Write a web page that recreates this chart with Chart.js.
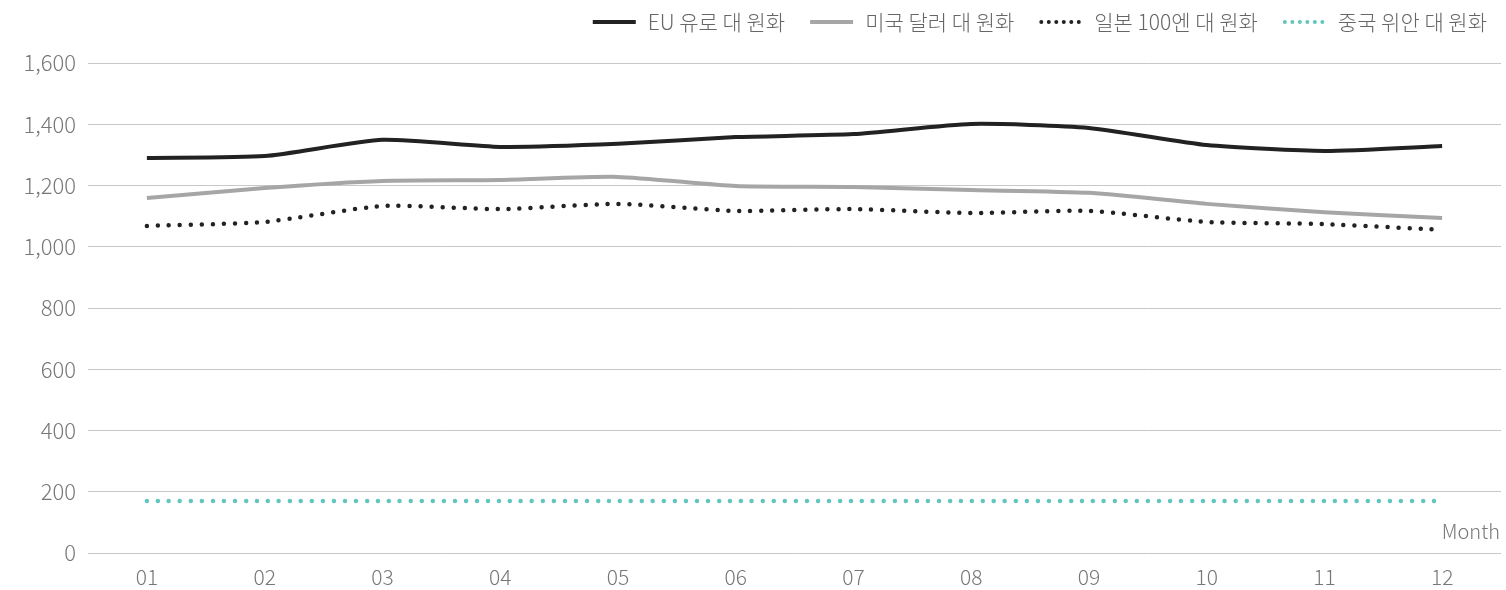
<!DOCTYPE html>
<html>
<head>
<meta charset="utf-8">
<script src="https://cdn.jsdelivr.net/npm/chart.js@4"></script>
<style>
  html, body { margin: 0; padding: 0; background: #fff; }
  #wrap { width: 1506px; height: 590px; }
</style>
</head>
<body>
<div id="wrap"><canvas id="rateChart"></canvas></div>
<script>
  const months = ['01', '02', '03', '04', '05', '06', '07', '08', '09', '10', '11', '12'];

  const eurKrw = [1290, 1296, 1349, 1326, 1336, 1358, 1368, 1401, 1388, 1332, 1313, 1329];
  const usdKrw = [1159, 1192, 1215, 1218, 1228, 1198, 1195, 1185, 1176, 1140, 1113, 1094];
  const jpyKrw = [1068, 1081, 1133, 1123, 1140, 1117, 1123, 1110, 1117, 1081, 1074, 1055];
  const cnyKrw = [170, 170, 170, 170, 170, 170, 170, 170, 170, 170, 170, 170];

  const yTicks = [0, 200, 400, 600, 800, 1000, 1200, 1400, 1600];

  const fontFamily = '"Noto Sans CJK KR", "Noto Sans", sans-serif';

  // legend drawn by hand so the dotted samples keep their dots
  const lineLegend = {
    id: 'lineLegend',
    afterDraw(chart) {
      const ctx = chart.ctx;
      ctx.save();
      ctx.font = '300 21px ' + fontFamily;
      ctx.textBaseline = 'middle';
      let x = 1487;
      const y = 22;
      const sets = chart.data.datasets.slice().reverse();
      sets.forEach(ds => {
        const w = ctx.measureText(ds.label).width;
        ctx.fillStyle = '#666';
        ctx.textAlign = 'left';
        ctx.fillText(ds.label, x - w, y);
        const end = x - w - 12;
        const start = end - 43;
        ctx.beginPath();
        ctx.strokeStyle = ds.borderColor;
        ctx.lineWidth = ds.borderDash ? 4 : ds.borderWidth;
        ctx.lineCap = ds.borderDash ? 'round' : 'butt';
        ctx.setLineDash(ds.borderDash ? [0, 7.5] : []);
        ctx.moveTo(start + (ds.borderDash ? 2 : 0), y);
        ctx.lineTo(end, y);
        ctx.stroke();
        ctx.setLineDash([]);
        x = start - 25;
      });
      ctx.restore();
    }
  };

  // "Month" label sitting just above the x axis on the right
  const monthLabel = {
    id: 'monthLabel',
    afterDraw(chart) {
      const ctx = chart.ctx;
      const area = chart.chartArea;
      ctx.save();
      ctx.font = '300 20px ' + fontFamily;
      ctx.fillStyle = '#777';
      ctx.textAlign = 'right';
      ctx.textBaseline = 'middle';
      ctx.fillText('Month', 1500, area.bottom - 22);
      ctx.restore();
    }
  };

  const data = {
    labels: months,
    datasets: [{
      label: 'EU 유로 대 원화',
      data: eurKrw,
      borderColor: '#222222',
      backgroundColor: '#222222',
      borderWidth: 4,
      tension: 0.2,
      pointRadius: 0
    }, {
      label: '미국 달러 대 원화',
      data: usdKrw,
      borderColor: '#a6a6a6',
      backgroundColor: '#a6a6a6',
      borderWidth: 4,
      tension: 0.2,
      pointRadius: 0
    }, {
      label: '일본 100엔 대 원화',
      data: jpyKrw,
      borderColor: '#222222',
      backgroundColor: '#222222',
      borderWidth: 4.5,
      borderDash: [0, 11],
      borderCapStyle: 'round',
      tension: 0.2,
      pointRadius: 0
    }, {
      label: '중국 위안 대 원화',
      data: cnyKrw,
      borderColor: '#62c5be',
      backgroundColor: '#62c5be',
      borderWidth: 4.5,
      borderDash: [0, 11],
      borderCapStyle: 'round',
      tension: 0.2,
      pointRadius: 0
    }]
  };

  const config = {
    type: 'line',
    data: data,
    options: {
      responsive: true,
      maintainAspectRatio: false,
      animation: false,
      layout: { padding: { left: 0, right: 5, top: 63, bottom: 0 } },
      plugins: {
        legend: { display: false },
        tooltip: { enabled: false }
      },
      scales: {
        x: {
          offset: true,
          afterFit: axis => { axis.height = 37; },
          grid: { display: false },
          border: { display: false },
          ticks: {
            color: '#777',
            padding: 3,
            font: { family: fontFamily, size: 21, weight: '300' }
          }
        },
        y: {
          min: 0,
          max: 1600,
          afterBuildTicks: axis => { axis.ticks = yTicks.map(v => ({ value: v })); },
          afterFit: axis => { axis.width = 88; },
          grid: { color: '#c8c8c8', lineWidth: 1, drawTicks: false },
          border: { display: false },
          ticks: {
            color: '#777',
            padding: 12,
            font: { family: fontFamily, size: 22, weight: '300' },
            callback: v => v.toLocaleString('en-US')
          }
        }
      }
    },
    plugins: [lineLegend, monthLabel]
  };

  const rateChart = new Chart(
    document.getElementById('rateChart'),
    config
  );
</script>
</body>
</html>
